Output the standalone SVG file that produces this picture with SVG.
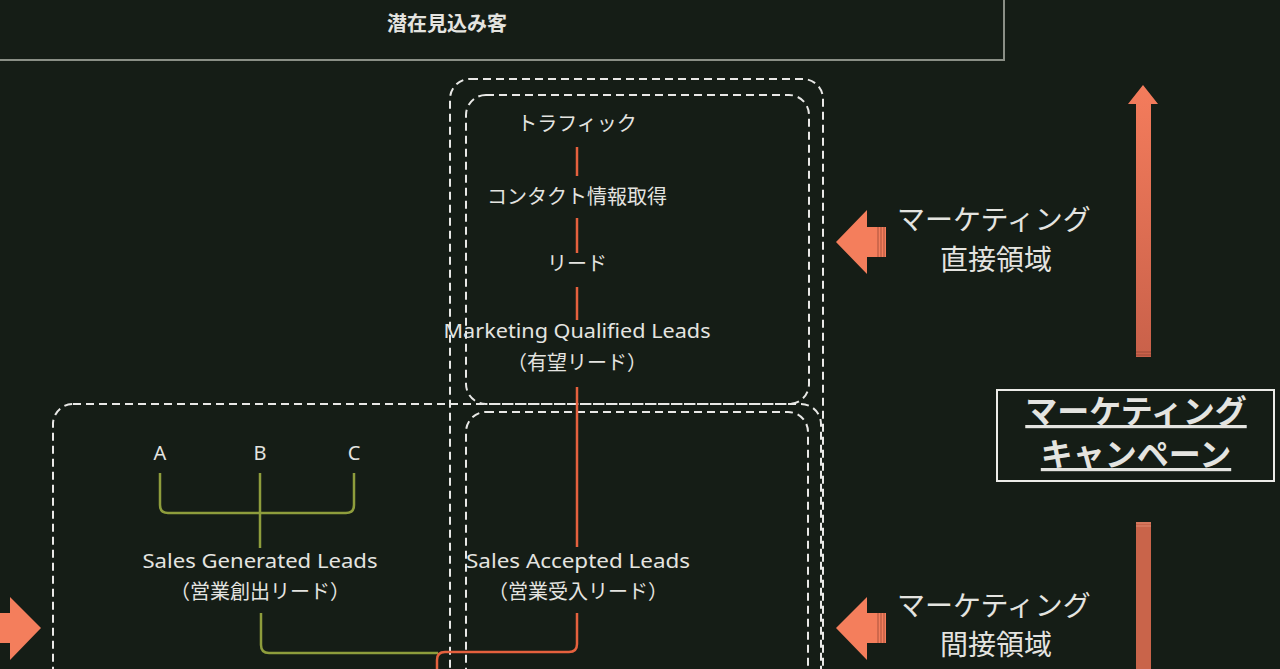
<svg xmlns="http://www.w3.org/2000/svg" width="1280" height="669" viewBox="0 0 1280 669">
  <defs>
    <style>
      .t { font-family: "Noto Sans CJK JP", "Noto Sans", sans-serif; fill: #e4e4e0; text-anchor: middle; }
      .lat { font-family: "Noto Sans", "Noto Sans CJK JP", sans-serif; }
      .s20 { font-size: 20px; }
      .s28 { font-size: 28px; }
      .dash { fill: none; stroke: #e8e8e6; stroke-width: 2; stroke-dasharray: 8 5; }
      .or { fill: none; stroke: #e5613e; stroke-width: 2.5; stroke-linejoin: round; }
      .gr { fill: none; stroke: #8e9d3c; stroke-width: 2.5; stroke-linejoin: round; }
      .arr { fill: #f47e5c; }
      .stripe { stroke: #a9523d; stroke-width: 1; }
    </style>
    <linearGradient id="upg" x1="0" y1="0" x2="0" y2="1">
      <stop offset="0" stop-color="#f47c5c"/>
      <stop offset="1" stop-color="#c9614a"/>
    </linearGradient>
  </defs>

  <rect x="0" y="0" width="1280" height="669" fill="#151d16"/>

  <g id="prospects">
    <rect x="-2" y="-2" width="1006" height="62" fill="#151d16" stroke="#8a8f86" stroke-width="2"/>
    <text class="t" x="447" y="31" font-size="20" font-weight="bold">潜在見込み客</text>
  </g>

  <g id="areas">
    <rect id="outer-marketing" class="dash" x="450" y="79" width="373" height="640" rx="20"/>
    <rect id="marketing-box" class="dash" x="466" y="95" width="343" height="309" rx="20"/>
    <rect id="sales-box" class="dash" x="53" y="404" width="768" height="320" rx="20"/>
    <rect id="sal-box" class="dash" x="466" y="412" width="342" height="320" rx="20"/>
  </g>

  <g id="connectors">
    <line class="or" x1="577" y1="147" x2="577" y2="176"/>
    <line class="or" x1="577" y1="218" x2="577" y2="253"/>
    <line class="or" x1="577" y1="287" x2="577" y2="320"/>
    <line class="or" x1="577" y1="387" x2="577" y2="547"/>
    <path class="gr" d="M160,473 V505 Q160,513 168,513 H346 Q354,513 354,505 V473"/>
    <line class="gr" x1="260" y1="473" x2="260" y2="548"/>
    <path class="gr" d="M261,613 V645 Q261,653 269,653 H438"/>
    <path class="or" d="M577,613 V644 Q577,652 569,652 H445 Q437,652 437,660 V680"/>
  </g>

  <g id="traffic"><text class="t s20" x="577" y="131">トラフィック</text></g>
  <g id="contact"><text class="t s20" x="577" y="204">コンタクト情報取得</text></g>
  <g id="lead"><text class="t s20" x="577" y="271">リード</text></g>
  <g id="mql">
    <text class="t lat s20" x="577" y="338" textLength="267" lengthAdjust="spacingAndGlyphs">Marketing Qualified Leads</text>
    <text class="t s20" x="577" y="370">（有望リード）</text>
  </g>
  <g id="a"><text class="t lat s20" x="160" y="460">A</text></g>
  <g id="b"><text class="t lat s20" x="260" y="460">B</text></g>
  <g id="c"><text class="t lat s20" x="354" y="460">C</text></g>
  <g id="sgl">
    <text class="t lat s20" x="260" y="568" textLength="235" lengthAdjust="spacingAndGlyphs">Sales Generated Leads</text>
    <text class="t s20" x="260" y="599">（営業創出リード）</text>
  </g>
  <g id="sal">
    <text class="t lat s20" x="578" y="568" textLength="224" lengthAdjust="spacingAndGlyphs">Sales Accepted Leads</text>
    <text class="t s20" x="578" y="599">（営業受入リード）</text>
  </g>

  <g id="direct-label">
    <polygon class="arr" points="836,242 867,210 867,227 886,227 886,257 867,257 867,274"/>
    <line class="stripe" x1="878" y1="227" x2="878" y2="257"/>
    <line class="stripe" x1="881" y1="227" x2="881" y2="257"/>
    <line class="stripe" x1="884" y1="227" x2="884" y2="257"/>
    <text class="t s28" x="994" y="230">マーケティング</text>
    <text class="t s28" x="996" y="270">直接領域</text>
  </g>

  <g id="indirect-label">
    <polygon class="arr" points="836,628 867,597 867,613 886,613 886,643 867,643 867,660"/>
    <line class="stripe" x1="878" y1="613" x2="878" y2="643"/>
    <line class="stripe" x1="881" y1="613" x2="881" y2="643"/>
    <line class="stripe" x1="884" y1="613" x2="884" y2="643"/>
    <text class="t s28" x="994" y="616">マーケティング</text>
    <text class="t s28" x="996" y="655">間接領域</text>
  </g>

  <g id="left-arrow">
    <polygon class="arr" points="41,628 10,597 10,613 -5,613 -5,643 10,643 10,660"/>
  </g>

  <g id="campaign">
    <polygon fill="url(#upg)" points="1143,85 1158,104 1151,104 1151,357 1136,357 1136,104 1128,104"/>
    <line x1="1136" y1="352" x2="1151" y2="352" stroke="#9c4a38" stroke-width="1"/>
    <line x1="1136" y1="355" x2="1151" y2="355" stroke="#9c4a38" stroke-width="1"/>
    <rect x="1136" y="522" width="15" height="160" fill="#c9644a"/>
    <line x1="1136" y1="523" x2="1151" y2="523" stroke="#e08a70" stroke-width="1"/>
    <line x1="1136" y1="526" x2="1151" y2="526" stroke="#e08a70" stroke-width="1"/>
    <rect x="997" y="390" width="277" height="91" fill="#151d16" stroke="#ecece8" stroke-width="2"/>
    <text class="t" x="1136" y="423" font-size="32" font-weight="bold" text-decoration="underline">マーケティング</text>
    <text class="t" x="1136" y="466" font-size="32" font-weight="bold" text-decoration="underline">キャンペーン</text>
  </g>
</svg>
